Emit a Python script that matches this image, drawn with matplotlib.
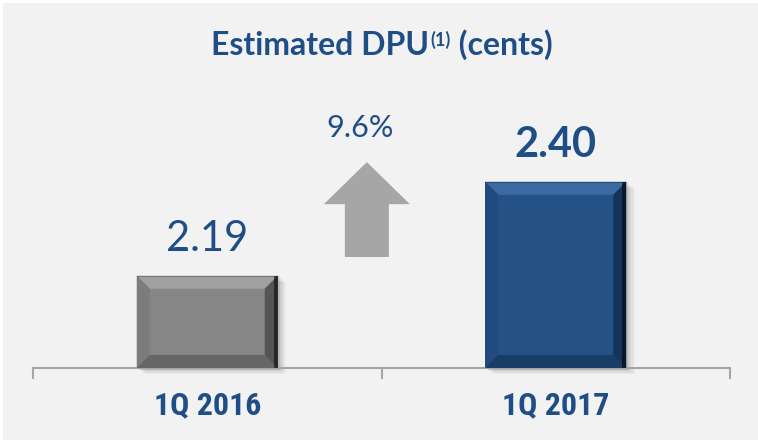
#!/usr/bin/env python3
# Estimated DPU bar chart, 1Q 2016 vs 1Q 2017

import matplotlib.pyplot as plt
from matplotlib.patches import Polygon, Rectangle
from matplotlib import font_manager

categories = ["1Q 2016", "1Q 2017"]
values = [2.19, 2.40]
change_label = "9.6%"

BLUE_TEXT = "#1f4e86"
BG = "#f2f2f2"
AXIS = "#a6a6a6"

# face, top, left, bottom, right
BAR_STYLES = [
    ("#868686", "#a0a0a0", "#7c7c7c", "#666666", "#555555"),
    ("#245186", "#3c6aa3", "#214b7e", "#1a3d68", "#15345a"),
]
VALUE_WEIGHTS = ["normal", "bold"]

W, H = 758, 440
AX_LEFT, AX_RIGHT, AX_BOTTOM, AX_TOP = 33, 730, 368, 80
Y_MIN = 1.984
PX_PER_UNIT = 447.6


def pick_font(names):
    avail = {f.name for f in font_manager.fontManager.ttflist}
    for n in names:
        if n in avail:
            return n
    return "DejaVu Sans"


COND = pick_font(["Liberation Sans Narrow", "Roboto Condensed", "Lato", "DejaVu Sans"])
BODY = pick_font(["Lato", "DejaVu Sans"])


def bevel_bar(ax, x, top, width, style, bx, by):
    face, light, left, bottom, right = style
    x0, x1 = x - width / 2, x + width / 2
    y0, y1 = Y_MIN, top
    # soft shadow
    for i, a in enumerate([0.10, 0.07, 0.05, 0.03]):
        off = (i + 1) * 0.006
        ax.add_patch(Rectangle((x0 + off, y0 - off * 0.6), width, y1 - y0,
                               color="black", alpha=a, lw=0, zorder=1, clip_on=False))
    ax.add_patch(Rectangle((x0, y0), width, y1 - y0, color=face, lw=0, zorder=2))
    polys = [
        ([(x0, y1), (x1, y1), (x1 - bx, y1 - by), (x0 + bx, y1 - by)], light),
        ([(x0, y0), (x0, y1), (x0 + bx, y1 - by), (x0 + bx, y0 + by)], left),
        ([(x0, y0), (x1, y0), (x1 - bx, y0 + by), (x0 + bx, y0 + by)], bottom),
        ([(x1, y0), (x1, y1), (x1 - bx, y1 - by), (x1 - bx, y0 + by)], right),
    ]
    for pts, c in polys:
        ax.add_patch(Polygon(pts, closed=True, color=c, lw=0, zorder=3))
    # thin dark rim on right edge
    rim = 4 / ((AX_RIGHT - AX_LEFT) / 2)
    ax.add_patch(Rectangle((x1 - rim, y0), rim, y1 - y0, color="black",
                           alpha=0.55, lw=0, zorder=4))
    ax.plot([x0, x1], [y1, y1], color="black", lw=0.8, alpha=0.25, zorder=4)


fig = plt.figure(figsize=(W / 100, H / 100), dpi=100)
fig.patch.set_facecolor("white")
fig.add_artist(Rectangle((3 / W, 0), 1, 1 - 3 / H, transform=fig.transFigure,
                         color=BG, lw=0, zorder=0))

ax = fig.add_axes([AX_LEFT / W, (H - AX_BOTTOM) / H,
                   (AX_RIGHT - AX_LEFT) / W, (AX_BOTTOM - AX_TOP) / H])
ax.set_facecolor("none")
ax.set_xlim(-0.5, 1.5)
ax.set_ylim(Y_MIN, Y_MIN + (AX_BOTTOM - AX_TOP) / PX_PER_UNIT)

px_x = (AX_RIGHT - AX_LEFT) / 2
bx, by = 13 / px_x, 13 / PX_PER_UNIT
bar_w = 141 / px_x

for i, v in enumerate(values):
    bevel_bar(ax, i, v, bar_w, BAR_STYLES[i], bx, by)
    ax.text(i, v + 18 / PX_PER_UNIT, f"{v:.2f}", ha="center", va="bottom",
            fontsize=30, color=BLUE_TEXT, fontweight=VALUE_WEIGHTS[i], family=BODY)
    ax.text(i, -0.13, categories[i], transform=ax.get_xaxis_transform(),
            ha="center", va="center", fontsize=23, fontweight="bold",
            color=BLUE_TEXT, family=COND)

# growth arrow
ax_x = 0.458
tip, head, base = 2.444, 2.350, 2.232
hw, sw = 43 / px_x, 22 / px_x
arrow = [(ax_x, tip), (ax_x + hw, head), (ax_x + sw, head), (ax_x + sw, base),
         (ax_x - sw, base), (ax_x - sw, head), (ax_x - hw, head)]
ax.add_patch(Polygon(arrow, closed=True, color="#a6a6a6", lw=0, zorder=2))
ax.text(ax_x - 0.02, tip + 20 / PX_PER_UNIT, change_label, ha="center", va="bottom",
        fontsize=22, color=BLUE_TEXT, family=BODY)

for s in ["top", "left", "right"]:
    ax.spines[s].set_visible(False)
ax.spines["bottom"].set_color(AXIS)
ax.spines["bottom"].set_linewidth(1.5)
ax.set_yticks([])
ax.set_xticks([-0.5, 0.5, 1.5])
ax.set_xticklabels([])
ax.tick_params(axis="x", length=8, width=1.5, color=AXIS, direction="out")

# title built from three pieces so the footnote marker sits small and raised
renderer = fig.canvas.get_renderer()
parts = [("Estimated DPU", 23, 0), ("(1)", 13, 9), (" (cents)", 23, 0)]
widths = []
for s, fs, _ in parts:
    t = fig.text(0, 0, s, fontsize=fs, fontweight="bold", family=BODY)
    widths.append(t.get_window_extent(renderer=renderer).width)
    t.remove()
x = 382 - sum(widths) / 2 - 1
base_y = 1 - 55 / H
for (s, fs, dy), w in zip(parts, widths):
    fig.text(x / W, base_y + dy / H, s, ha="left", va="baseline", fontsize=fs,
             fontweight="bold", color=BLUE_TEXT, family=BODY)
    x += w + 1

fig.savefig("out.png", dpi=100, facecolor=fig.get_facecolor())
